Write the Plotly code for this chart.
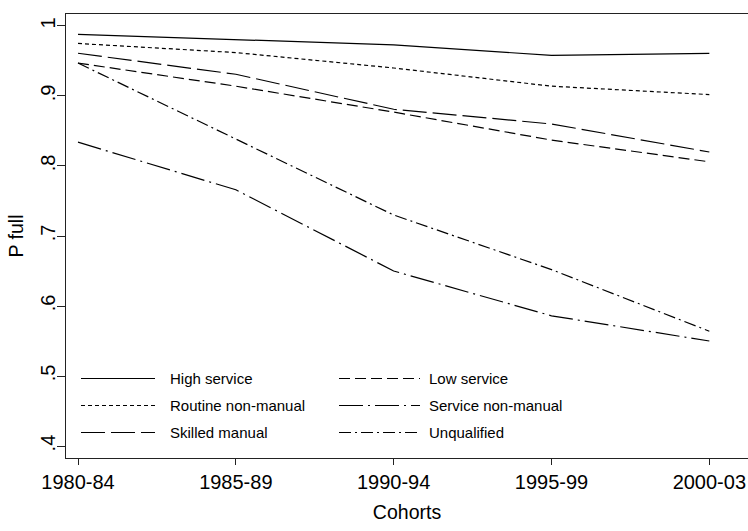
import plotly.graph_objects as go

cohorts = ["1980-84", "1985-89", "1990-94", "1995-99", "2000-03"]
high_service = [0.988, 0.981, 0.973, 0.958, 0.961]
low_service = [0.947, 0.914, 0.877, 0.837, 0.806]
routine_non_manual = [0.975, 0.962, 0.940, 0.914, 0.902]
service_non_manual = [0.834, 0.766, 0.650, 0.586, 0.550]
skilled_manual = [0.961, 0.931, 0.881, 0.860, 0.820]
unqualified = [0.947, 0.839, 0.730, 0.652, 0.564]

y_tickvals = [0.4, 0.5, 0.6, 0.7, 0.8, 0.9, 1.0]
y_ticktext = [".4", ".5", ".6", ".7", ".8", ".9", "1"]

series = [
    ("High service", high_service, "solid"),
    ("Low service", low_service, "11px,5px"),
    ("Routine non-manual", routine_non_manual, "4px,3px"),
    ("Service non-manual", service_non_manual, "24px,5px,2px,5px"),
    ("Skilled manual", skilled_manual, "24px,6px"),
    ("Unqualified", unqualified, "12px,4px,2px,4px"),
]

W, H = 748, 531
L, R, T, B = 66, 0, 14, 73
PW, PH = W - L - R, H - T - B

FONT = "Liberation Sans, Arial, sans-serif"

fig = go.Figure()
for name, vals, dash in series:
    fig.add_trace(go.Scatter(
        x=cohorts, y=vals, mode="lines", name=name, showlegend=False,
        line=dict(color="black", width=1.2, dash=dash),
    ))

# custom legend (two columns, row-wise like Stata)
def px_x(p):
    return (p - L) / PW

def px_y(p):
    return (H - B - p) / PH

legend_cols = [(81, 155, 168), (339, 420, 427)]
legend_rows = [378.5, 405.5, 432.5]
shapes = []
annotations = []
for i, (name, vals, dash) in enumerate(series):
    col = legend_cols[i % 2]
    row = legend_rows[i // 2]
    shapes.append(dict(
        type="line", xref="paper", yref="paper",
        x0=px_x(col[0]), x1=px_x(col[1]), y0=px_y(row), y1=px_y(row),
        line=dict(color="black", width=1.2, dash=dash),
    ))
    annotations.append(dict(
        xref="paper", yref="paper", x=px_x(col[2]), y=px_y(row),
        text=name, showarrow=False, xanchor="left", yanchor="middle",
        font=dict(family=FONT, size=15, color="black"),
    ))

fig.update_layout(
    width=W, height=H,
    margin=dict(l=L, r=R, t=T, b=B, autoexpand=False),
    paper_bgcolor="white", plot_bgcolor="white",
    font=dict(family=FONT, color="black"),
    shapes=shapes, annotations=annotations,
    showlegend=False,
)
fig.update_xaxes(
    type="category", range=[-0.076, 4.245],
    showgrid=False, zeroline=False,
    showline=True, linecolor="#222", linewidth=1.3, mirror=True,
    ticks="outside", ticklen=6, tickwidth=1, tickcolor="#222",
    tickfont=dict(family=FONT, size=20, color="black"),
    title=dict(text="Cohorts", font=dict(family=FONT, size=19.5, color="black"), standoff=13),
    automargin=False,
)
fig.update_yaxes(
    range=[0.3829, 1.0171],
    tickvals=y_tickvals, ticktext=y_ticktext, tickangle=-90,
    ticklabelstandoff=-6,
    showgrid=False, zeroline=False,
    showline=True, linecolor="#222", linewidth=1.3, mirror=False,
    ticks="outside", ticklen=8, tickwidth=1, tickcolor="#222",
    tickfont=dict(family=FONT, size=20, color="black"),
    title=dict(text="P full", font=dict(family=FONT, size=19.5, color="black"), standoff=8),
    automargin=False,
)

fig.write_html(
    "out.html",
    config={"displayModeBar": False},
    post_script="document.documentElement.style.margin='0';document.body.style.margin='0';document.body.style.overflow='hidden';",
)
